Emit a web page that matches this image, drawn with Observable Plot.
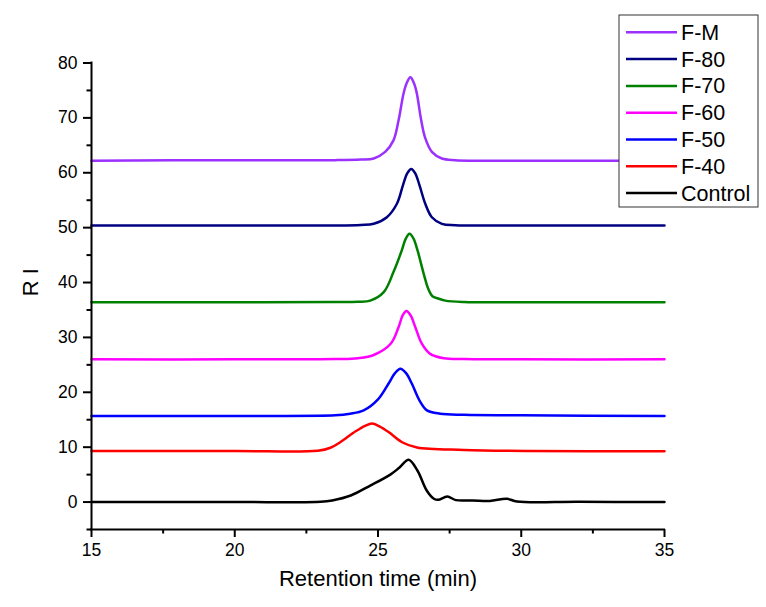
<!DOCTYPE html>
<html>
<head>
<meta charset="utf-8">
<script src="https://cdn.jsdelivr.net/npm/d3@7"></script>
<script src="https://cdn.jsdelivr.net/npm/@observablehq/plot@0.6"></script>
<style>
  body { margin: 0; background: #fff; }
  #chart { width: 766px; height: 607px; }
</style>
</head>
<body>
<div id="chart"></div>
<script>
// series names, top to bottom in the legend
const names = ["F-M", "F-80", "F-70", "F-60", "F-50", "F-40", "Control"]
const colors = ["#9b30ff", "#000080", "#008000", "#ff00ff", "#0000ff", "#ff0000", "#000000"]

// retention time (min) / RI readings per sample
const fmT = [15, 20, 23.5, 24.4, 24.85, 25.25, 25.54, 25.72, 25.89, 26.0, 26.13, 26.25, 26.35, 26.5, 26.65, 26.88, 27.23, 27.7, 30, 35]
const fmV = [62.2, 62.3, 62.3, 62.4, 62.6, 63.8, 65.9, 69.6, 74.4, 76.3, 77.4, 76.4, 74.6, 69.8, 66.3, 63.8, 62.6, 62.3, 62.2, 62.2]

const f80T = [15, 20, 23.5, 24.4, 24.85, 25.31, 25.66, 25.87, 26.02, 26.16, 26.3, 26.45, 26.65, 26.88, 27.23, 27.7, 30, 35]
const f80V = [50.4, 50.4, 50.4, 50.5, 50.7, 51.9, 54.35, 57.7, 59.9, 60.7, 59.9, 57.7, 54.35, 51.9, 50.7, 50.45, 50.4, 50.4]

const f70T = [15, 20, 23.5, 24.3, 24.73, 25.2, 25.54, 25.83, 25.97, 26.1, 26.24, 26.38, 26.6, 26.75, 26.9, 27.1, 27.35, 28, 30, 35]
const f70V = [36.4, 36.4, 36.45, 36.5, 36.7, 38.25, 41.9, 45.85, 48.0, 48.9, 48.0, 45.85, 41.5, 38.9, 37.5, 37.1, 36.7, 36.45, 36.4, 36.4]

const f60T = [15, 20, 23.5, 24.3, 24.85, 25.45, 25.72, 25.86, 25.99, 26.14, 26.3, 26.53, 26.82, 27.3, 28, 30, 35]
const f60V = [26.0, 26.0, 26.05, 26.2, 26.8, 28.9, 31.9, 34.0, 34.8, 34.0, 31.9, 28.85, 27.0, 26.2, 26.05, 26.0, 26.0]

const f50T = [15, 20, 23.5, 24.03, 24.5, 25.0, 25.37, 25.58, 25.78, 25.98, 26.18, 26.45, 26.71, 27.17, 28, 30, 35]
const f50V = [15.7, 15.7, 15.8, 16.1, 16.7, 18.7, 21.6, 23.4, 24.3, 23.5, 21.6, 18.5, 16.7, 16.1, 15.9, 15.8, 15.7]

const f40T = [15, 20, 22.9, 23.34, 23.68, 24.22, 24.55, 24.79, 25.05, 25.37, 25.84, 26.36, 28, 30.3, 35]
const f40V = [9.3, 9.3, 9.35, 9.9, 10.9, 12.9, 13.9, 14.3, 13.8, 12.75, 10.9, 9.95, 9.5, 9.3, 9.25]

const ctrlT = [15, 20, 23.0, 23.4, 24.05, 24.73, 25.43, 25.75, 26.07, 26.38, 26.7, 26.95, 27.1, 27.42, 27.72, 28.3, 28.9, 29.5, 29.85, 32, 35]
const ctrlV = [0, 0, 0.05, 0.3, 1.2, 3.0, 5.0, 6.3, 7.7, 5.7, 2.1, 0.6, 0.4, 1.0, 0.35, 0.3, 0.2, 0.6, 0.1, 0.05, 0]

const xMajor = [15, 20, 25, 30, 35]
const xMinor = [17.5, 22.5, 27.5, 32.5]
const yMajor = [0, 10, 20, 30, 40, 50, 60, 70, 80]
const yMinor = [-5, 5, 15, 25, 35, 45, 55, 65, 75]

const series = [
  {name: "F-M", t: fmT, v: fmV},
  {name: "F-80", t: f80T, v: f80V},
  {name: "F-70", t: f70T, v: f70V},
  {name: "F-60", t: f60T, v: f60V},
  {name: "F-50", t: f50T, v: f50V},
  {name: "F-40", t: f40T, v: f40V},
  {name: "Control", t: ctrlT, v: ctrlV}
]
const rows = series.flatMap(s => s.t.map((t, i) => ({name: s.name, t: t, v: s.v[i]})))

const font = "'Liberation Sans', Arial, sans-serif"

const chart = Plot.plot({
  width: 766,
  height: 607,
  marginLeft: 91,
  marginRight: 102,
  marginTop: 62.5,
  marginBottom: 78,
  style: {fontFamily: font, fontSize: "17.5px", background: "white", color: "black"},
  x: {domain: [15, 35]},
  y: {domain: [-5, 80]},
  color: {domain: names, range: colors},
  marks: [
    Plot.lineY(rows, {x: "t", y: "v", z: "name", stroke: "name", strokeWidth: 2.5, curve: "catmull-rom"}),
    Plot.ruleX([15], {stroke: "black", strokeWidth: 2, strokeLinecap: "square"}),
    Plot.ruleY([-5], {stroke: "black", strokeWidth: 2, strokeLinecap: "square"}),
    Plot.axisX(xMajor, {tickSize: 8, tickPadding: 6, fontSize: 17.5, strokeWidth: 2, label: null}),
    Plot.axisX(xMinor, {tickSize: 4.5, tickFormat: () => "", strokeWidth: 2, label: null}),
    Plot.axisY(yMajor, {tickSize: 8, tickPadding: 6, fontSize: 17.5, strokeWidth: 2, label: null}),
    Plot.axisY(yMinor, {tickSize: 4.5, tickFormat: () => "", strokeWidth: 2, label: null}),
    Plot.text(["Retention time (min)"], {frameAnchor: "bottom", dy: 56, fontSize: 22}),
    Plot.text(["R I"], {frameAnchor: "left", dx: -61, rotate: -90, fontSize: 22})
  ]
})

// legend box sits on top of the plot, upper right
const svg = d3.select(chart)
const lg = svg.append("g").style("font-family", font)
lg.append("rect")
  .attr("x", 619).attr("y", 15).attr("width", 139).attr("height", 192)
  .attr("fill", "white").attr("stroke", "#333").attr("stroke-width", 1)
names.forEach((n, i) => {
  const yy = 32.3 + i * 26.8
  lg.append("line")
    .attr("x1", 626).attr("x2", 677).attr("y1", yy).attr("y2", yy)
    .attr("stroke", colors[i]).attr("stroke-width", 2.5)
  lg.append("text")
    .attr("x", 681).attr("y", yy).attr("dy", "0.35em")
    .attr("text-anchor", "start")
    .style("font-size", "21.5px").attr("fill", "black")
    .text(n)
})

d3.select('#chart').append(() => chart)
</script>
</body>
</html>
